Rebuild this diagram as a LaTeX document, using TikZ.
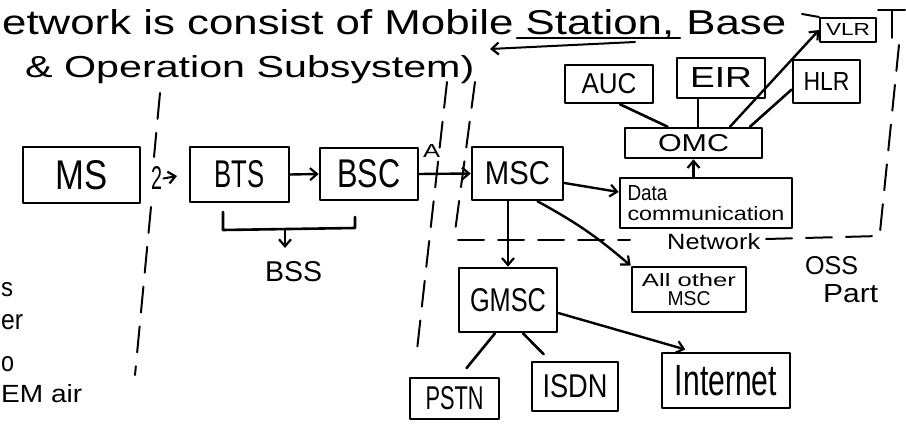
\documentclass[tikz,border=0pt]{standalone}
\usepackage{fontspec}
\setmainfont{Liberation Sans}
\usepackage{graphicx}
\usetikzlibrary{arrows.meta}
\newcommand\hw[3]{\resizebox{#1pt}{#2pt}{#3}}
\begin{document}
\begin{tikzpicture}[x=1pt,y=-1pt, line cap=round, line join=round,
  ink/.style={line width=2.6pt},
  bx/.style={draw, line width=2.6pt, inner sep=0pt, rectangle},
  txt/.style={inner sep=0pt, anchor=base west},
  arr/.style={line width=2.4pt, -{Straight Barb[length=7pt,width=12pt,line width=2.2pt]}},
  dsh/.style={line width=2pt, dash pattern=on 26pt off 14pt}]
\useasboundingbox (0,0) rectangle (906,427);
\fill[white] (0,0) rectangle (906,427);

% header text
\node[txt] (h1) at (2,35) {\hw{784}{25}{etwork is consist of Mobile Station, Base}};
\node[txt] (h2) at (25,78) {\hw{449}{22}{\& Operation Subsystem)}};
\draw[ink] (517,38) -- (680,38);
\draw[arr, line width=2pt] (635,42) -- (490,49);

% left fragments
\node[txt] (l1) at (1,297) {\hw{12}{14}{s}};
\node[txt] (l2) at (1,330) {\hw{22}{15}{er}};
\node[txt] (l3) at (1,372) {\hw{13}{15}{o}};
\node[txt] (l4) at (1,403) {\hw{81}{18}{EM air}};

% boxes
\node[bx, minimum width=117pt, minimum height=56pt] (ms) at (81.5,175) {\hw{52}{29}{MS}};
\node[bx, minimum width=99pt, minimum height=55pt] (bts) at (239.5,174.5) {\hw{50}{27}{BTS}};
\node[bx, minimum width=98pt, minimum height=52pt] (bsc) at (369,174) {\hw{63}{28}{BSC}};
\node[bx, minimum width=91pt, minimum height=53pt] (msc) at (517.5,173.5) {\hw{65}{23}{MSC}};
\node[bx, minimum width=88pt, minimum height=38pt] (auc) at (609,84) {\hw{55}{20}{AUC}};
\node[bx, minimum width=88pt, minimum height=40pt] (eir) at (721,78) {\hw{62}{20}{EIR}};
\node[bx, minimum width=67pt, minimum height=43pt] (hlr) at (826.5,81.5) {\hw{46}{18}{HLR}};
\node[bx, minimum width=56pt, minimum height=24pt, line width=2pt] (vlr) at (848,30) {\hw{44}{12}{VLR}};
\node[bx, minimum width=137pt, minimum height=30pt] (omc) at (693.5,143) {\hw{71}{17}{OMC}};
\node[bx, minimum width=172pt, minimum height=50pt, align=left] (dcn) at (706,203) {\hw{40}{15}{Data}\\[5pt]\hw{157}{14}{communication}};
\node[bx, minimum width=98pt, minimum height=64pt] (gmsc) at (508,300) {\hw{76}{23}{GMSC}};
\node[bx, minimum width=114pt, minimum height=45pt, align=center] (aom) at (689,289.5) {\hw{94}{13}{All other}\\[4pt]\hw{43}{14}{MSC}};
\node[bx, minimum width=89pt, minimum height=41pt] (pstn) at (454.5,398.5) {\hw{58}{23}{PSTN}};
\node[bx, minimum width=86pt, minimum height=49pt] (isdn) at (575,386.5) {\hw{65}{23}{ISDN}};
\node[bx, minimum width=128pt, minimum height=55pt] (inet) at (726,380.5) {\hw{102}{30}{Internet}};

% labels
\node[txt] (um) at (151,190) {\hw{11}{23}{2}};
\node[txt] (alab) at (423,158) {\hw{17}{13}{A}};
\node[txt] (bss) at (265,282) {\hw{57}{20}{BSS}};
\node[txt] (net) at (667,250) {\hw{93}{16}{Network}};
\node[txt] (oss) at (805,275) {\hw{53}{18}{OSS}};
\node[txt] (part) at (823,303) {\hw{55}{18}{Part}};

% connectors
\coordinate (umtip) at (177,176);
\draw[arr, line width=2pt] ([xshift=1pt]um.east) -- (umtip);
\draw[arr] (bts.east) -- (bsc.west);
\draw[arr] (bsc.east) -- (msc.west);
\coordinate (brL) at (223,212);
\coordinate (brR) at (355,217);
\draw[ink] (brL) -- (223,230) -- (355,228) -- (brR);
\coordinate (brM) at (285,229);
\coordinate (brT) at (285,248);
\draw[arr] (brM) -- (brT);
\draw[arr] ([yshift=-9.5pt]msc.east) -- ([yshift=11pt]dcn.west);
\draw[arr] (dcn.north -| omc.south) -- (omc.south);
\draw[ink] ([xshift=11pt]auc.south) -- ([xshift=-26pt]omc.north);
\draw[ink] ([xshift=-23pt]eir.south) -- ([xshift=4.5pt]omc.north);
\draw[arr] ([xshift=36.5pt]omc.north) -- (vlr.west);
\draw[ink] ([yshift=-8pt]hlr.west) -- ([xshift=56.5pt]omc.north);
\draw[ink, line width=2pt] (vlr.north west) -- ++(-17,-3);
\draw[arr] (msc.south -| gmsc.north) -- (gmsc.north);
\draw[arr] ([xshift=20pt]msc.south) to[bend left=6] (aom.north west);
\draw[arr, shorten >=8pt] ([yshift=-13pt]gmsc.east) -- ([xshift=-33pt]inet.north);
\draw[ink, shorten >=11pt] ([xshift=-13pt]gmsc.south) -- ([xshift=5pt]pstn.north);
\draw[ink, shorten >=9pt] ([xshift=15pt]gmsc.south) -- ([xshift=-25pt]isdn.north);

% dashed boundaries
\draw[dsh] (160,93) -- (154,157);
\draw[dsh] (151,207) -- (135,375);
\draw[dsh] (447,82) -- (417,350);
\draw[dsh] (475,82) -- (455,232);
\draw[dsh] (458,240) -- (630,240);
\draw[dsh] (766,239) -- (880,236);
\draw[dsh] (899,45) -- (880,232);
\draw[ink, line width=2pt] (878,10) -- (905,10);
\draw[ink, line width=2pt] (892,10) -- (892,38);
\end{tikzpicture}
\end{document}
